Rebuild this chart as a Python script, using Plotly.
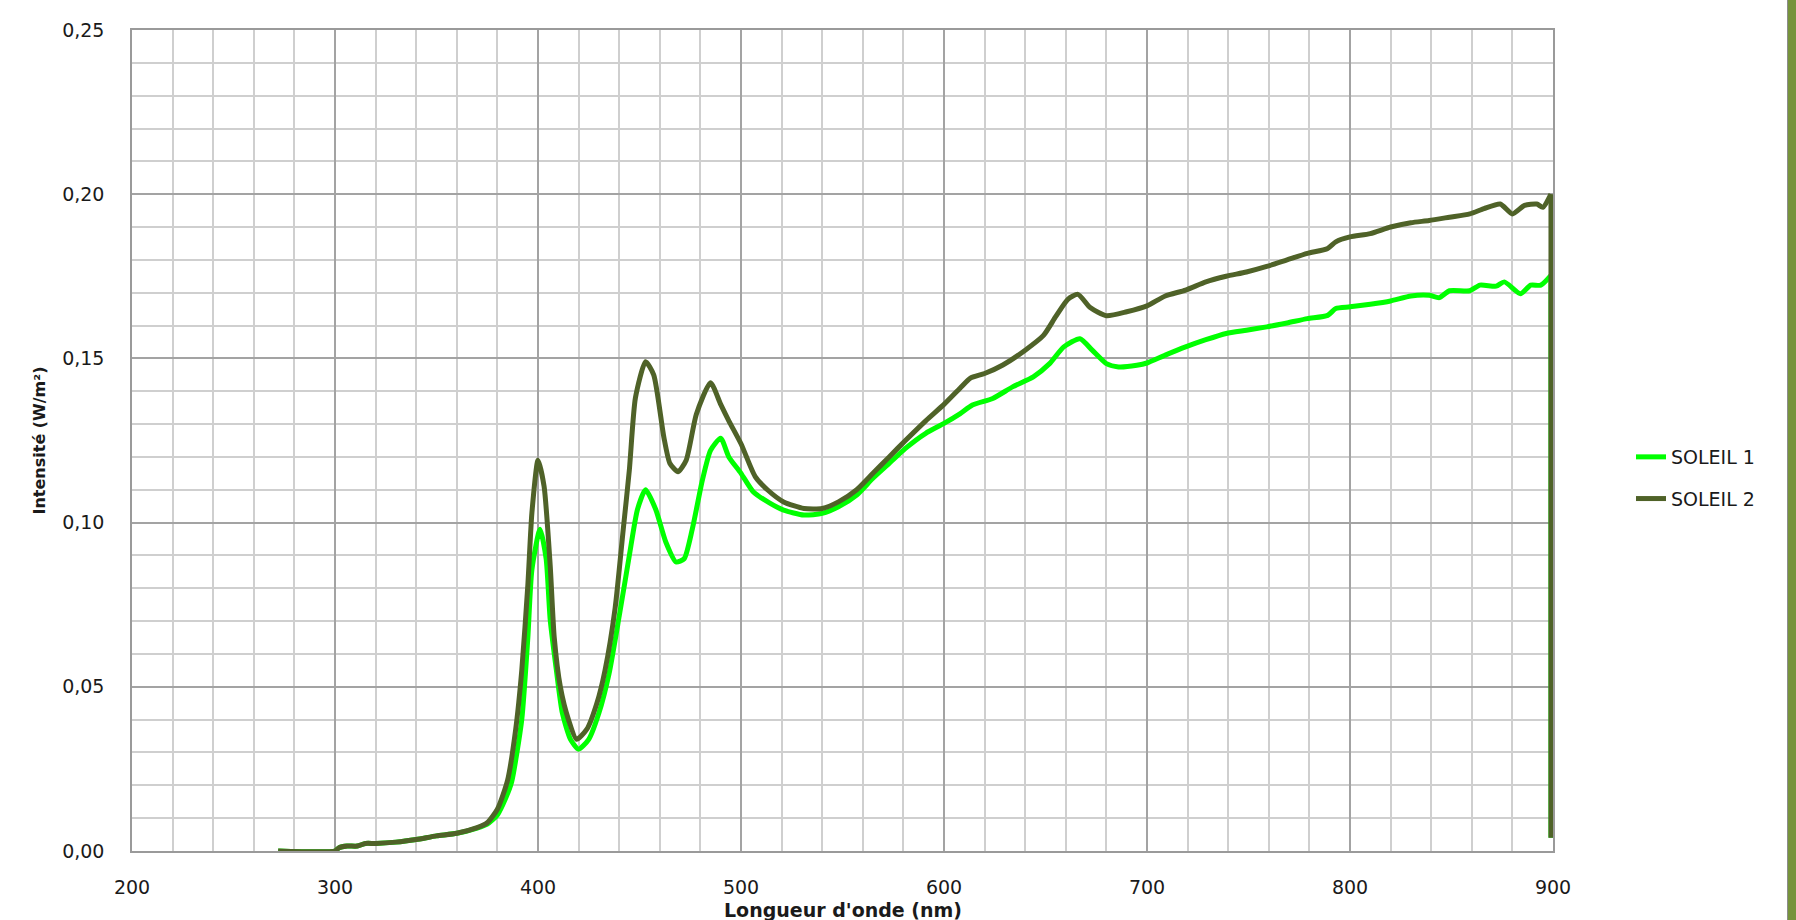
import plotly.graph_objects as go

# Spectral irradiance, wavelength in nm, intensity in W/m²
wl_soleil_1 = [272, 300, 302, 306, 311, 315, 320, 330, 340, 350, 360, 370, 375, 380, 384, 387,
               392, 395, 397, 401, 404, 406, 409, 412, 416, 420, 425, 430, 435, 440, 445, 449,
               453, 458, 463, 468, 472, 476, 481, 485, 490, 494, 500, 506, 514, 521, 531, 540,
               548, 557, 565, 573, 581, 591, 600, 608, 614, 624, 634, 644, 652, 659, 667, 673,
               680, 686, 695, 700, 709, 719, 729, 739, 749, 759, 769, 779, 789, 793, 800, 810,
               820, 830, 839, 844, 849, 859, 864, 872, 876, 884, 889, 894, 899, 899]
soleil_1 = [0, 0, 0.001, 0.0015, 0.0015, 0.0023, 0.0023, 0.0027, 0.0035, 0.0046, 0.0054, 0.007,
            0.0082, 0.011, 0.016, 0.021, 0.040, 0.065, 0.0857, 0.098, 0.089, 0.0705, 0.0553,
            0.042, 0.034, 0.031, 0.034, 0.042, 0.054, 0.0715, 0.090, 0.104, 0.110, 0.104, 0.094,
            0.088, 0.089, 0.098, 0.113, 0.122, 0.1257, 0.120, 0.115, 0.1094, 0.106, 0.1038,
            0.1023, 0.1028, 0.1048, 0.1084, 0.1135, 0.118, 0.1226, 0.1272, 0.1302, 0.1332,
            0.1358, 0.1378, 0.1414, 0.1444, 0.1484, 0.1535, 0.156, 0.1525, 0.1484, 0.1474,
            0.1479, 0.1486, 0.151, 0.1535, 0.1557, 0.1576, 0.1586, 0.1596, 0.1608, 0.1621,
            0.1631, 0.1652, 0.1657, 0.1665, 0.1675, 0.169, 0.1692, 0.1685, 0.1706, 0.1706,
            0.1723, 0.172, 0.1733, 0.1697, 0.1723, 0.1723, 0.1753, 0.004]

wl_soleil_2 = [272, 300, 302, 306, 311, 315, 320, 330, 340, 350, 360, 370, 375, 380, 385, 389,
               392, 395, 397, 400, 403, 406, 408, 411, 415, 419, 424, 429, 433, 438, 442, 445,
               448, 453, 457, 462, 465, 469, 473, 478, 485, 490, 494, 500, 507, 513, 521, 531,
               540, 548, 557, 565, 573, 581, 591, 600, 608, 613, 620, 629, 640, 649, 655, 661,
               666, 672, 680, 690, 700, 709, 719, 729, 739, 749, 759, 769, 779, 789, 793, 800,
               810, 820, 830, 839, 849, 859, 866, 874, 880, 886, 892, 895, 899, 899]
soleil_2 = [0, 0, 0.001, 0.0015, 0.0015, 0.0023, 0.0023, 0.0027, 0.0035, 0.0046, 0.0054, 0.0071,
            0.0086, 0.0127, 0.0215, 0.037, 0.055, 0.081, 0.103, 0.119, 0.111, 0.087, 0.065,
            0.050, 0.040, 0.034, 0.037, 0.045, 0.055, 0.074, 0.098, 0.116, 0.138, 0.149, 0.145,
            0.126, 0.118, 0.1155, 0.119, 0.133, 0.1426, 0.136, 0.131, 0.124, 0.114, 0.110,
            0.1063, 0.1043, 0.1043, 0.1063, 0.110, 0.115, 0.120, 0.125, 0.131, 0.136, 0.141,
            0.144, 0.1454, 0.148, 0.1525, 0.157, 0.1627, 0.168, 0.1695, 0.1655, 0.163, 0.1642,
            0.166, 0.169, 0.1708, 0.1733, 0.175, 0.1763, 0.178, 0.180, 0.182, 0.1835, 0.1855,
            0.187, 0.188, 0.190, 0.1913, 0.192, 0.193, 0.194, 0.1956, 0.197, 0.194, 0.1966,
            0.197, 0.196, 0.200, 0.004]

series_names = ["SOLEIL 1", "SOLEIL 2"]
series_colors = ["#00FF00", "#4F6228"]

FONT = "DejaVu Sans"
TEXT = "#1a1a1a"

fig = go.Figure()
for i, (x, y) in enumerate([(wl_soleil_1, soleil_1), (wl_soleil_2, soleil_2)]):
    # smooth spectrum body
    fig.add_trace(go.Scatter(
        x=x[:-1], y=y[:-1], mode="lines", name=series_names[i],
        legendgroup=series_names[i],
        line=dict(color=series_colors[i], width=5, shape="spline", smoothing=0.6),
    ))
    # sharp cut-off at the end of the sensor range
    fig.add_trace(go.Scatter(
        x=x[-2:], y=y[-2:], mode="lines", name=series_names[i],
        legendgroup=series_names[i], showlegend=False,
        line=dict(color=series_colors[i], width=5),
    ))

axis_common = dict(
    showline=True, mirror=True, linecolor="#9a9a9a", linewidth=1.5,
    showgrid=True, gridcolor="#a3a3a3", gridwidth=1.5,
    zeroline=False, ticks="",
    tickfont=dict(family=FONT, size=19, color=TEXT),
)

fig.update_xaxes(
    range=[200, 900], tick0=200, dtick=100,
    minor=dict(dtick=20, showgrid=True, gridcolor="#cfcfcf", gridwidth=1.5),
    ticklabelstandoff=18,
    **axis_common,
)
fig.update_yaxes(
    range=[0, 0.25], tick0=0, dtick=0.05, tickformat=".2f",
    minor=dict(dtick=0.01, showgrid=True, gridcolor="#cfcfcf", gridwidth=1.5),
    ticklabelstandoff=22,
    **axis_common,
)

fig.update_layout(
    width=1796, height=920, autosize=False,
    margin=dict(l=132, r=243, t=30, b=69, pad=0),
    paper_bgcolor="white", plot_bgcolor="white",
    separators=", ",
    showlegend=True,
    legend=dict(
        x=(1631 - 132) / 1421, xanchor="left",
        y=(851 - 478) / 821, yanchor="middle",
        traceorder="grouped", tracegroupgap=14,
        font=dict(family=FONT, size=19, color=TEXT),
        bgcolor="rgba(0,0,0,0)", borderwidth=0,
    ),
    annotations=[
        dict(text="<b>Longueur d'onde (nm)</b>", xref="paper", yref="paper",
             x=0.5, y=(851 - 910) / 821, xanchor="center", yanchor="middle",
             showarrow=False, font=dict(family=FONT, size=19, color=TEXT)),
        dict(text="<b>Intensité (W/m²)</b>", xref="paper", yref="paper",
             x=(39 - 132) / 1421, y=0.5, xanchor="center", yanchor="middle",
             textangle=-90, showarrow=False,
             font=dict(family=FONT, size=16, color=TEXT)),
    ],
    shapes=[
        # decorative band along the right edge of the page
        dict(type="rect", xref="paper", yref="paper",
             x0=(1788 - 132) / 1421, x1=(1797 - 132) / 1421,
             y0=(851 - 925) / 821, y1=(851 + 5) / 821,
             fillcolor="#77933C", line=dict(width=0), layer="above"),
        dict(type="line", xref="paper", yref="paper",
             x0=(1787.5 - 132) / 1421, x1=(1787.5 - 132) / 1421,
             y0=(851 - 925) / 821, y1=(851 + 5) / 821,
             line=dict(color="#8c8c8c", width=1), layer="above"),
    ],
)

fig.write_html("out.html")
